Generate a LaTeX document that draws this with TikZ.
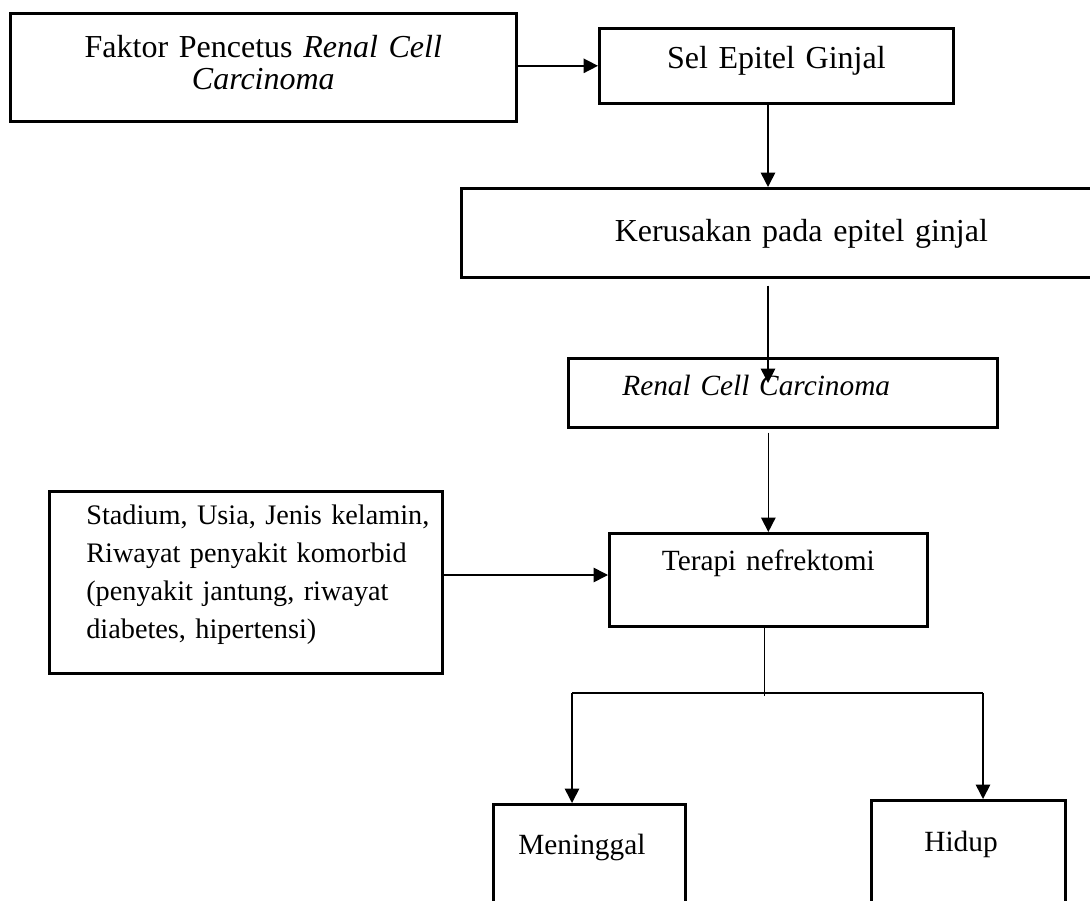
\documentclass[tikz,border=0pt]{standalone}
\usepackage{fontspec}
\setmainfont{Liberation Serif}
\usetikzlibrary{arrows.meta}
\newlength{\pxu}
\setlength{\pxu}{0.375pt}
\newcommand{\besar}{\fontsize{12pt}{12pt}\selectfont}
\newcommand{\kecil}{\fontsize{11pt}{14.25pt}\selectfont}
\newcommand{\kiriisi}{\fontsize{10.6pt}{14.25pt}\selectfont}
\begin{document}
\begin{tikzpicture}[x=0.375pt, y=-0.375pt]
    \tikzset{kotak/.style={draw, line width=1pt, inner sep=0pt, anchor=north west, align=center},
        panah/.style={-{Triangle[length=5.4pt,width=5.4pt]}, line width=0.6pt},
        garis/.style={line width=0.6pt}}
    \path[use as bounding box] (0,0) rectangle (1090,901);
    \clip (0,0) rectangle (1090,901);
    %Kotak atas
    \node[kotak, text width=506\pxu, text height=44\pxu, text depth=64\pxu, font=\besar] (faktor) at (9,12)
        {Faktor Pencetus \textit{Renal Cell}\\ \textit{Carcinoma}};
    \node[kotak, text width=354\pxu, text height=40\pxu, text depth=35\pxu, font=\besar] (sel) at (598,27)
        {Sel Epitel Ginjal};
    \node[kotak, text width=680\pxu, text height=53\pxu, text depth=36\pxu, font=\besar] (kerusakan) at (460,187)
        {Kerusakan pada epitel ginjal};
    \node[kotak, text width=321\pxu, inner xsep=54\pxu, align=left, text height=37\pxu, text depth=32\pxu, font=\kecil] (rcc) at (567,357)
        {\textit{Renal Cell Carcinoma}};
    %Terapi
    \node[kotak, text width=393\pxu, align=left, text height=33\pxu, text depth=149\pxu, font=\kiriisi] (stadium) at (48,490)
        {\hspace*{37\pxu}Stadium, Usia, Jenis kelamin,\\
         \hspace*{37\pxu}Riwayat penyakit komorbid\\
         \hspace*{37\pxu}(penyakit jantung, riwayat\\
         \hspace*{37\pxu}diabetes, hipertensi)};
    \node[kotak, text width=318\pxu, text height=37\pxu, text depth=56\pxu, font=\kecil] (terapi) at (608,532)
        {Terapi nefrektomi};
    %Hasil
    \node[kotak, text width=142\pxu, inner xsep=25\pxu, align=left, text height=50\pxu, text depth=100\pxu, font=\kecil] (meninggal) at (492,803)
        {Meninggal};
    \node[kotak, text width=88\pxu, inner xsep=53\pxu, align=left, text height=51\pxu, text depth=100\pxu, font=\kecil] (hidup) at (870,799)
        {Hidup};

    %Panah
    \coordinate (poros) at (768,0);
    \coordinate (masuk) at (0,575);
    \draw[panah] (faktor.east |- sel.west) -- (sel.west);
    \draw[panah] (poros |- sel.south) -- (poros |- kerusakan.north);
    \draw[panah, shorten <=7\pxu, shorten >=-26\pxu] (poros |- kerusakan.south) -- (poros |- rcc.north);
    \draw[panah, shorten <=4\pxu] (terapi.north |- rcc.south) -- (terapi.north);
    \draw[panah] (stadium.east |- masuk) -- (terapi.west |- masuk);

    %Cabang
    \coordinate (cabang) at ([xshift=-4\pxu,yshift=-68\pxu]terapi.south);
    \coordinate (kiri) at (572,693);
    \coordinate (kanan) at (983,693);
    \draw[garis] ([xshift=-4\pxu]terapi.south) -- (cabang);
    \draw[garis] (kiri) -- (kanan);
    \draw[panah] (kiri) -- (kiri |- meninggal.north);
    \draw[panah] (kanan) -- (kanan |- hidup.north);
\end{tikzpicture}
\end{document}
